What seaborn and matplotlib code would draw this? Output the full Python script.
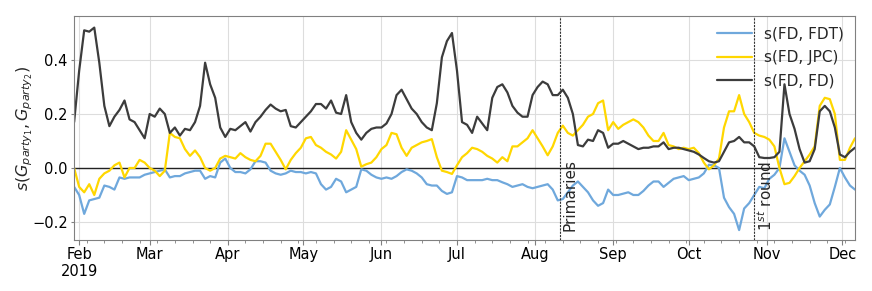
import pandas as pd
import numpy as np
import seaborn as sns
import matplotlib
matplotlib.use('Agg')
import matplotlib.pyplot as plt
import matplotlib.dates as mdates

# one value every 2 days, from 2019-01-30 to 2019-12-06
dates = pd.date_range('2019-01-30', periods=156, freq='2D')

s_fd_fdt = [
    -0.07, -0.10, -0.17, -0.12, -0.115, -0.11, -0.065, -0.07, -0.08, -0.035,
    -0.04, -0.035, -0.035, -0.035, -0.025, -0.02, -0.015, -0.01, -0.005, -0.035,
    -0.03, -0.03, -0.02, -0.015, -0.01, -0.01, -0.04, -0.03, -0.035, 0.02,
    0.035, 0.0, -0.015, -0.015, -0.02, -0.005, 0.025, 0.025, 0.02, -0.01,
    -0.02, -0.025, -0.02, -0.01, -0.015, -0.015, -0.02, -0.015, -0.02, -0.06,
    -0.08, -0.07, -0.04, -0.05, -0.09, -0.08, -0.07, -0.005, -0.01, -0.025,
    -0.035, -0.04, -0.035, -0.04, -0.03, -0.015, -0.005, -0.01, -0.02, -0.035,
    -0.06, -0.065, -0.065, -0.085, -0.096, -0.09, -0.03, -0.035, -0.045, -0.045,
    -0.045, -0.045, -0.04, -0.045, -0.045, -0.053, -0.06, -0.07, -0.065, -0.06,
    -0.07, -0.075, -0.07, -0.065, -0.06, -0.08, -0.12, -0.115, -0.09, -0.065,
    -0.05, -0.07, -0.09, -0.12, -0.14, -0.13, -0.08, -0.10, -0.10, -0.095,
    -0.09, -0.10, -0.10, -0.085, -0.065, -0.05, -0.05, -0.07, -0.055, -0.04,
    -0.035, -0.03, -0.045, -0.04, -0.035, -0.02, 0.012, 0.01, 0.0, -0.11,
    -0.145, -0.17, -0.23, -0.15, -0.13, -0.10, -0.07, -0.075, -0.04, -0.025,
    0.0, 0.11, 0.06, 0.01, -0.01, -0.025, -0.065, -0.13, -0.18, -0.155,
    -0.135, -0.07, 0.0, -0.035, -0.065, -0.08,
]

s_fd_jpc = [
    0.0, -0.07, -0.09, -0.06, -0.10, -0.04, -0.02, -0.01, 0.01, 0.02,
    -0.035, 0.0, 0.0, 0.03, 0.02, 0.0, -0.01, -0.03, -0.01, 0.13,
    0.115, 0.11, 0.07, 0.045, 0.065, 0.04, 0.0, -0.01, 0.0, 0.035,
    0.045, 0.04, 0.035, 0.055, 0.04, 0.03, 0.025, 0.045, 0.09, 0.09,
    0.06, 0.03, -0.005, 0.03, 0.055, 0.075, 0.11, 0.115, 0.085, 0.075,
    0.06, 0.05, 0.035, 0.06, 0.14, 0.105, 0.07, 0.005, 0.014, 0.02,
    0.04, 0.07, 0.085, 0.13, 0.125, 0.075, 0.045, 0.075, 0.085, 0.095,
    0.10, 0.107, 0.04, -0.01, -0.015, -0.022, 0.01, 0.04, 0.055, 0.075,
    0.07, 0.06, 0.045, 0.035, 0.02, 0.04, 0.025, 0.08, 0.08, 0.095,
    0.11, 0.14, 0.11, 0.08, 0.047, 0.08, 0.13, 0.157, 0.13, 0.12,
    0.14, 0.16, 0.19, 0.20, 0.24, 0.25, 0.14, 0.17, 0.145, 0.16,
    0.17, 0.18, 0.17, 0.15, 0.12, 0.10, 0.10, 0.13, 0.085, 0.08,
    0.07, 0.075, 0.07, 0.075, 0.055, 0.02, -0.005, 0.01, 0.035, 0.15,
    0.21, 0.21, 0.27, 0.20, 0.17, 0.13, 0.12, 0.115, 0.105, 0.08,
    0.0, -0.06, -0.055, -0.03, 0.0, 0.025, 0.05, 0.08, 0.23, 0.26,
    0.255, 0.20, 0.03, 0.03, 0.075, 0.11,
]

s_fd_fd = [
    0.17, 0.36, 0.51, 0.505, 0.52, 0.39, 0.23, 0.155, 0.19, 0.215,
    0.25, 0.18, 0.17, 0.14, 0.11, 0.20, 0.19, 0.22, 0.20, 0.13,
    0.15, 0.12, 0.145, 0.14, 0.17, 0.23, 0.39, 0.31, 0.26, 0.15,
    0.115, 0.145, 0.14, 0.155, 0.17, 0.135, 0.17, 0.19, 0.215, 0.235,
    0.22, 0.21, 0.215, 0.155, 0.15, 0.17, 0.19, 0.21, 0.237, 0.237,
    0.22, 0.25, 0.205, 0.20, 0.27, 0.17, 0.13, 0.105, 0.13, 0.145,
    0.15, 0.15, 0.165, 0.20, 0.27, 0.29, 0.255, 0.22, 0.20, 0.17,
    0.15, 0.14, 0.24, 0.41, 0.47, 0.50, 0.36, 0.17, 0.16, 0.13,
    0.19, 0.165, 0.14, 0.26, 0.30, 0.31, 0.28, 0.23, 0.205, 0.19,
    0.19, 0.27, 0.30, 0.32, 0.31, 0.27, 0.27, 0.29, 0.26, 0.20,
    0.085, 0.08, 0.105, 0.10, 0.14, 0.13, 0.075, 0.09, 0.09, 0.10,
    0.09, 0.08, 0.07, 0.075, 0.075, 0.08, 0.08, 0.095, 0.07, 0.075,
    0.075, 0.07, 0.065, 0.06, 0.05, 0.037, 0.025, 0.02, 0.025, 0.06,
    0.095, 0.10, 0.115, 0.095, 0.095, 0.08, 0.04, 0.037, 0.037, 0.04,
    0.06, 0.31, 0.20, 0.145, 0.07, 0.02, 0.025, 0.07, 0.21, 0.23,
    0.21, 0.15, 0.05, 0.04, 0.06, 0.075,
]

series_names = ['s(FD, FDT)', 's(FD, JPC)', 's(FD, FD)']
series_colors = ['#6fa8dc', '#ffd700', '#3c3c3c']

events = [pd.Timestamp('2019-08-11'), pd.Timestamp('2019-10-27')]
event_labels = ['Primaries', r'1$^{st}$ round']

df = pd.DataFrame({
    'date': np.tile(dates, 3),
    'value': s_fd_fdt + s_fd_jpc + s_fd_fd,
    'series': np.repeat(series_names, len(dates)),
})

sns.set_style('whitegrid', {'grid.color': '#dddddd', 'axes.edgecolor': '#808080'})
plt.rcParams['font.family'] = ['DejaVu Sans']

fig, ax = plt.subplots(figsize=(8.72, 2.91), dpi=100)
fig.subplots_adjust(left=0.085, right=0.9805, top=0.945, bottom=0.175)

sns.lineplot(data=df, x='date', y='value', hue='series', hue_order=series_names,
             palette=dict(zip(series_names, series_colors)), linewidth=1.6, ax=ax)

ax.axhline(0, color='#222222', lw=1.0, zorder=1)
for ev, lab in zip(events, event_labels):
    ax.axvline(ev, color='#333333', ls='--', lw=0.8, dashes=(2, 1))
    ax.text(ev + pd.Timedelta(days=1), -0.232, lab, rotation=90, ha='left', va='bottom',
            fontsize=11)

ax.set_xlim(dates[0], dates[-1])
ax.set_ylim(-0.267, 0.563)
ax.set_yticks([-0.2, 0.0, 0.2, 0.4])

ax.xaxis.set_major_locator(mdates.MonthLocator())
ax.xaxis.set_minor_locator(mdates.WeekdayLocator(byweekday=mdates.MO))

def month_fmt(x, pos):
    d = mdates.num2date(x)
    if d.month == 2:
        return d.strftime('%b\n%Y')
    return d.strftime('%b')

ax.xaxis.set_major_formatter(plt.FuncFormatter(month_fmt))
ax.tick_params(axis='x', which='both', bottom=True, colors='#808080', labelcolor='black')
ax.tick_params(axis='x', which='major', length=3.5, pad=1.5, labelsize=10.5)
ax.tick_params(axis='x', which='minor', length=2)
ax.tick_params(axis='y', left=True, length=2.5, pad=2, colors='#808080', labelcolor='black',
               labelsize=10.5)
for lab in ax.get_xticklabels():
    lab.set_ha('center')

ax.set_xlabel('')
ax.set_ylabel(r'$s(G_{party_1}, G_{party_2})$', fontsize=11.5)
ax.yaxis.set_label_coords(-0.05, 0.5)

ax.legend(loc='upper right', frameon=False, fontsize=11, handlelength=2.3,
          labelspacing=0.55, borderaxespad=0.3)

plt.savefig('out.png', dpi=100)
